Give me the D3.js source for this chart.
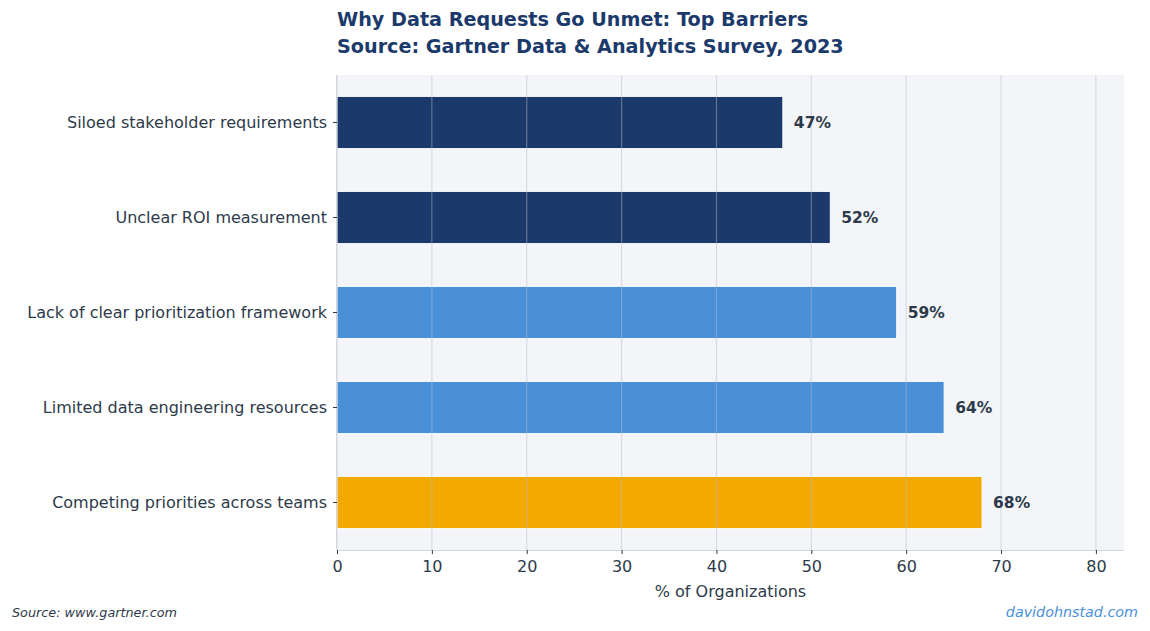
<!DOCTYPE html>
<html>
<head>
<meta charset="utf-8">
<script src="https://cdn.jsdelivr.net/npm/d3@7"></script>
<style>
  body { margin: 0; background: #fff; }
  svg text { font-family: "DejaVu Sans", sans-serif; }
</style>
</head>
<body>
<svg id="chart" width="1150" height="631"></svg>
<script>
// data, top to bottom as drawn
const barriers = [
  'Siloed stakeholder requirements',
  'Unclear ROI measurement',
  'Lack of clear prioritization framework',
  'Limited data engineering resources',
  'Competing priorities across teams'
];
const percents = [47, 52, 59, 64, 68];
const barColors = ['#1b3a6b', '#1b3a6b', '#4a90d9', '#4a90d9', '#f2a900'];
const xTicks = [0, 10, 20, 30, 40, 50, 60, 70, 80];

const plotLeft = 337, plotRight = 1124, plotTop = 75, plotBottom = 550;
const textColor = '#2d3a4a';

const svg = d3.select('#chart');

const x = d3.scaleLinear().domain([0, 82.96]).range([plotLeft, plotRight]);
const y = d3.scaleBand().domain(barriers).range([plotTop, plotBottom]).paddingInner(0.45).paddingOuter(0.225);

// plot background
svg.append('rect')
  .attr('x', plotLeft).attr('y', plotTop)
  .attr('width', plotRight - plotLeft).attr('height', plotBottom - plotTop)
  .attr('fill', '#f4f5f9');

// bars
svg.append('g')
  .selectAll('rect')
  .data(barriers)
  .enter()
  .append('rect')
  .attr('x', x(0))
  .attr('y', d => y(d))
  .attr('width', (d, i) => x(percents[i]) - x(0))
  .attr('height', y.bandwidth())
  .attr('fill', (d, i) => barColors[i])
  .attr('stroke', '#fff')
  .attr('stroke-width', 1);

// grid on top of bars
svg.append('g')
  .selectAll('line')
  .data(xTicks)
  .enter()
  .append('line')
  .attr('x1', d => x(d)).attr('x2', d => x(d))
  .attr('y1', plotTop).attr('y2', plotBottom)
  .attr('stroke', '#b8bdc8')
  .attr('stroke-opacity', 0.45)
  .attr('stroke-width', 1.2);

// value labels
svg.append('g')
  .selectAll('text')
  .data(barriers)
  .enter()
  .append('text')
  .attr('x', (d, i) => x(percents[i]) + 11)
  .attr('y', d => y(d) + y.bandwidth() / 2)
  .attr('dy', '0.35em')
  .attr('font-size', 15.5)
  .attr('font-weight', 'bold')
  .attr('fill', textColor)
  .text((d, i) => `${percents[i]}%`);

// axes
const bottomAxis = d3.axisBottom(x).tickValues(xTicks).tickSize(4).tickPadding(7);
const gx = svg.append('g')
  .attr('transform', `translate(0, ${plotBottom})`)
  .call(bottomAxis);
gx.select('.domain').attr('d', `M${plotLeft},0.5H${plotRight}`).attr('stroke', '#d4d6dc');
gx.selectAll('.tick line').attr('stroke', textColor);
gx.selectAll('.tick text').attr('font-size', 16).attr('fill', textColor).attr('font-family', '"DejaVu Sans", sans-serif');

const leftAxis = d3.axisLeft(y).tickSize(4).tickPadding(6);
const gy = svg.append('g')
  .attr('transform', `translate(${plotLeft}, 0)`)
  .call(leftAxis);
gy.select('.domain').attr('d', `M-0.5,${plotTop}V${plotBottom}`).attr('stroke', '#d4d6dc');
gy.selectAll('.tick line').attr('stroke', textColor);
gy.selectAll('.tick text').attr('font-size', 16).attr('fill', textColor).attr('font-family', '"DejaVu Sans", sans-serif');

svg.append('text')
  .attr('x', (plotLeft + plotRight) / 2 - 0)
  .attr('y', 597)
  .attr('text-anchor', 'middle')
  .attr('font-size', 16)
  .attr('fill', textColor)
  .text('% of Organizations');

// title
const title = svg.append('g');
title.append('text')
  .attr('x', plotLeft).attr('y', 26)
  .attr('font-size', 19.2).attr('font-weight', 'bold').attr('fill', '#1b3a6b')
  .text('Why Data Requests Go Unmet: Top Barriers');
title.append('text')
  .attr('x', plotLeft).attr('y', 53)
  .attr('font-size', 19.2).attr('font-weight', 'bold').attr('fill', '#1b3a6b')
  .text('Source: Gartner Data & Analytics Survey, 2023');

// footer
svg.append('text')
  .attr('x', 12).attr('y', 617)
  .attr('font-size', 12.8).attr('font-style', 'italic').attr('fill', textColor)
  .text('Source: www.gartner.com');
svg.append('text')
  .attr('x', 1138).attr('y', 617)
  .attr('text-anchor', 'end')
  .attr('font-size', 14.3).attr('font-style', 'italic').attr('fill', '#4a90d9')
  .text('davidohnstad.com');
</script>
</body>
</html>
